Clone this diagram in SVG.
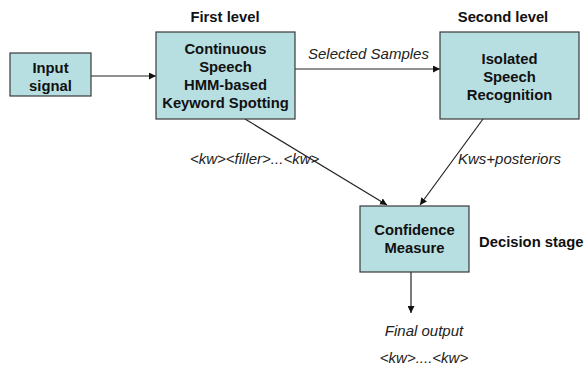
<svg xmlns="http://www.w3.org/2000/svg" width="586" height="369" viewBox="0 0 586 369">
<style>
.box{fill:#b7dfe2;stroke:#3a3a3a;stroke-width:1.2}
.b{font-family:"Liberation Sans",Arial,sans-serif;font-weight:bold;font-size:14.8px;fill:#111;text-anchor:middle}
.i{font-family:"Liberation Sans",Arial,sans-serif;font-style:italic;font-size:15px;fill:#222}
.c{stroke:#222;stroke-width:1.2;fill:none;marker-end:url(#ah)}
</style>
<defs>
<marker id="ah" viewBox="0 0 10 10" refX="10" refY="5" markerWidth="7" markerHeight="7" markerUnits="userSpaceOnUse" orient="auto"><path d="M0,0L10,5L0,10z" fill="#111"/></marker>
</defs>
<rect width="586" height="369" fill="#fff"/>
<g id="connectors">
<line class="c" x1="91" y1="76" x2="156" y2="76"/>
<line class="c" x1="295" y1="69" x2="440" y2="69"/>
<line class="c" x1="245" y1="119" x2="387" y2="205"/>
<line class="c" x1="483" y1="119" x2="420" y2="205"/>
<line class="c" x1="411" y1="272" x2="411" y2="313"/>
</g>
<g id="input">
<rect class="box" x="10" y="53" width="81" height="43"/>
<text class="b" x="50.5" y="73">Input</text>
<text class="b" x="50.5" y="91">signal</text>
</g>
<g id="first">
<text class="b" x="225" y="22">First level</text>
<rect class="box" x="156" y="32" width="139" height="87"/>
<text class="b" x="225.5" y="54">Continuous</text>
<text class="b" x="225.5" y="72">Speech</text>
<text class="b" x="225.5" y="90">HMM-based</text>
<text class="b" x="225.5" y="108">Keyword Spotting</text>
</g>
<g id="second">
<text class="b" x="503" y="22">Second level</text>
<rect class="box" x="440" y="32" width="139" height="87"/>
<text class="b" x="509.5" y="64">Isolated</text>
<text class="b" x="509.5" y="82">Speech</text>
<text class="b" x="509.5" y="100">Recognition</text>
</g>
<g id="confidence">
<rect class="box" x="360" y="206" width="109" height="66"/>
<text class="b" x="414.5" y="235">Confidence</text>
<text class="b" x="414.5" y="253">Measure</text>
<text class="b" x="479" y="247" style="text-anchor:start">Decision stage</text>
</g>
<g id="labels">
<text class="i" x="308" y="59">Selected Samples</text>
<text class="i" x="190" y="164">&lt;kw&gt;&lt;filler&gt;...&lt;kw&gt;</text>
<text class="i" x="458" y="164">Kws+posteriors</text>
<text class="i" x="424" y="336" text-anchor="middle">Final output</text>
<text class="i" x="424" y="363" text-anchor="middle">&lt;kw&gt;....&lt;kw&gt;</text>
</g>
</svg>
